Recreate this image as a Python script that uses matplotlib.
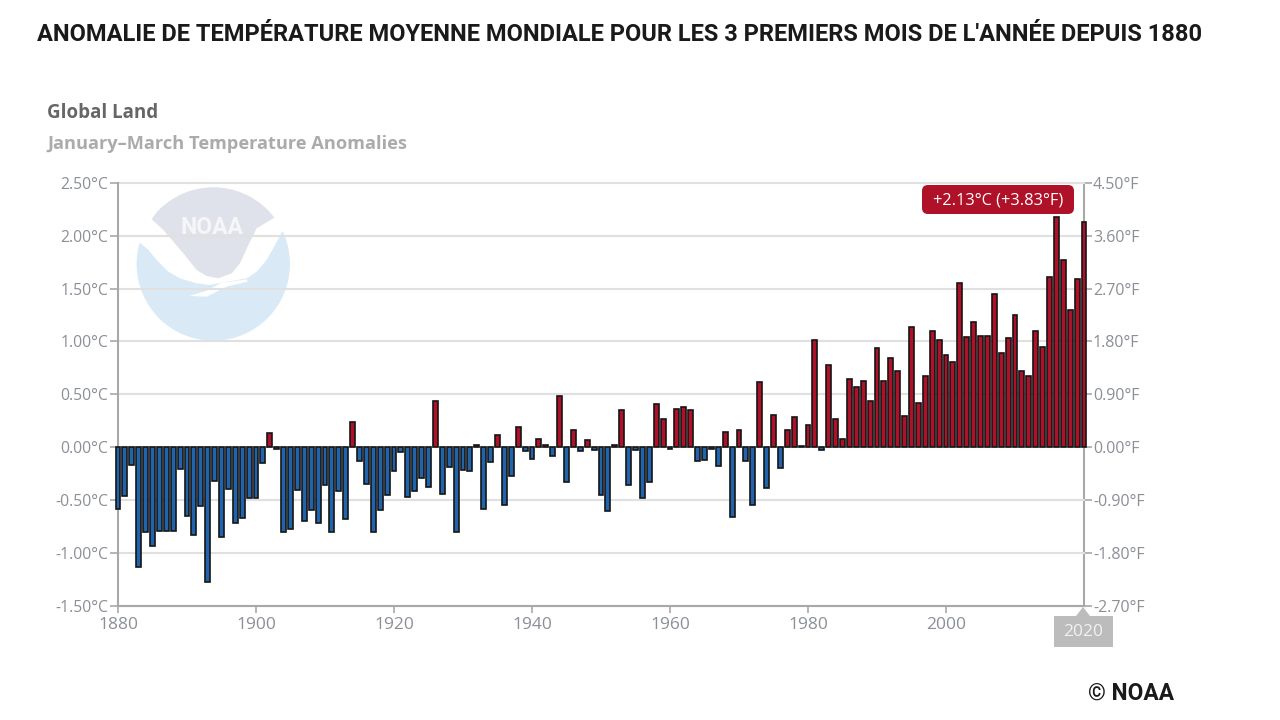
import matplotlib
matplotlib.use('Agg')
import matplotlib.pyplot as plt
from matplotlib.patches import Circle, Polygon, FancyBboxPatch, Rectangle

years = list(range(1880, 2021))
anomalies = [
    -0.59, -0.46, -0.17, -1.14, -0.80, -0.94, -0.79, -0.79, -0.79, -0.21,
    -0.65, -0.83, -0.56, -1.28, -0.32, -0.85, -0.40, -0.72, -0.67, -0.48,
    -0.48, -0.155, 0.13, -0.02, -0.80, -0.78, -0.41, -0.70, -0.60, -0.72,
    -0.36, -0.80, -0.42, -0.68, 0.24, -0.13, -0.35, -0.80, -0.60, -0.45,
    -0.23, -0.05, -0.47, -0.42, -0.29, -0.38, 0.44, -0.44, -0.19, -0.80,
    -0.22, -0.23, 0.02, -0.59, -0.14, 0.11, -0.55, -0.27, 0.19, -0.04,
    -0.11, 0.08, 0.02, -0.08, 0.48, -0.33, 0.16, -0.04, 0.07, -0.03,
    -0.45, -0.61, 0.02, 0.35, -0.36, -0.03, -0.48, -0.33, 0.41, 0.27,
    -0.02, 0.36, 0.38, 0.35, -0.13, -0.12, -0.02, -0.18, 0.14, -0.66,
    0.16, -0.13, -0.55, 0.62, -0.39, 0.30, -0.20, 0.16, 0.28, 0.01,
    0.21, 1.01, -0.03, 0.78, 0.27, 0.08, 0.64, 0.57, 0.63, 0.44,
    0.94, 0.63, 0.84, 0.72, 0.29, 1.14, 0.42, 0.67, 1.10, 1.01,
    0.87, 0.81, 1.55, 1.04, 1.18, 1.05, 1.05, 1.45, 0.89, 1.03,
    1.25, 0.72, 0.67, 1.10, 0.95, 1.61, 2.18, 1.77, 1.30, 1.59,
    2.13,
]
c_ticks = [-1.5, -1.0, -0.5, 0.0, 0.5, 1.0, 1.5, 2.0, 2.5]
f_ticks = [-2.7, -1.8, -0.9, 0.0, 0.9, 1.8, 2.7, 3.6, 4.5]
x_ticks = [1880, 1900, 1920, 1940, 1960, 1980, 2000]

BLUE = '#1f64ad'
RED = '#ae1128'
GREY_TXT = '#8b8f96'
AXIS = '#a8a8a8'
FONT = 'Open Sans'

plt.rcParams['font.family'] = FONT
fig = plt.figure(figsize=(12.8, 7.2), dpi=100)

# full page axes in pixels, for the logo, titles and tooltips
bg = fig.add_axes([0, 0, 1, 1], zorder=0)
bg.set_xlim(0, 1280)
bg.set_ylim(720, 0)
bg.axis('off')


def lg(points):
    return [(40 + x / 3, 170 + y / 3) for x, y in points]


bg.add_patch(Circle((213.3, 264), 76.7, fc='#d9eaf6', ec='none'))
bg.add_patch(Polygon(lg([(292, 218), (300, 218), (325, 240), (350, 270), (385, 305), (420, 325),
                         (470, 340), (510, 345), (545, 338), (620, 325), (650, 305), (680, 270),
                         (705, 225), (728, 183), (770, 100), (520, 0), (270, 100)]),
                     fc='white', ec='none'))
top = Circle((213.3, 264), 76.7, fc='#dfe2ea', ec='none')
bg.add_patch(top)
clip = Polygon(lg([(335, 148), (370, 180), (400, 215), (430, 250), (470, 300), (500, 318), (535, 325),
                   (575, 310), (600, 280), (625, 225), (650, 175), (705, 142), (620, 20), (420, 20)]),
               transform=bg.transData)
top.set_clip_path(clip)
bg.add_patch(Polygon(lg([(448, 378), (500, 362), (545, 338), (622, 328), (622, 335),
                         (560, 350), (500, 380)]), fc='white', ec='none'))
bg.text(212, 227, 'NOAA', color='#f6f6f8', fontsize=16.5, fontweight='bold', family='Roboto',
        ha='center', va='center')

bg.text(37, 34.5, "ANOMALIE DE TEMPÉRATURE MOYENNE MONDIALE POUR LES 3 PREMIERS MOIS DE L'ANNÉE DEPUIS 1880",
        family='Roboto', fontweight='bold', fontsize=17, color='#1a1a1a', va='center')
bg.text(47, 113, 'Global Land', fontsize=13.5, fontweight='bold', color='#666666', va='center')
bg.text(47, 144, 'January–March Temperature Anomalies', fontsize=13.15, fontweight='bold',
        color='#ababab', va='center')
bg.text(1088, 693, '© NOAA', family='Roboto', fontweight='bold', fontsize=16.4,
        color='#1a1a1a', va='center')

# chart
ax = fig.add_axes([118 / 1280, 1 - 605.5 / 720, 966 / 1280, 422.5 / 720], zorder=1)
ax.patch.set_alpha(0)
colors = [RED if v > 0 else BLUE for v in anomalies]
ax.bar(years, anomalies, width=0.72, color=colors, edgecolor='#151515', linewidth=1.2,
       clip_on=False, zorder=3)
ax.set_xlim(1880, 2020)
ax.set_ylim(-1.5, 2.5)
ax.set_yticks(c_ticks)
ax.set_yticklabels([f'{t:.2f}°C' for t in c_ticks])
ax.set_xticks(x_ticks)
ax.grid(axis='y', color='#e0e0e0', linewidth=1.5, zorder=0, clip_on=False)
ax.set_axisbelow(True)
ax.tick_params(axis='y', length=6, width=1.2, color=AXIS, labelcolor=GREY_TXT, labelsize=11.3, pad=1)
ax.tick_params(axis='x', length=5, width=1.2, color=AXIS, labelcolor=GREY_TXT, labelsize=12.5, pad=3)
for side in ['top', 'right']:
    ax.spines[side].set_visible(False)
ax.spines['left'].set_color(AXIS)
ax.spines['left'].set_linewidth(1.5)
ax.spines['bottom'].set_color(AXIS)
ax.spines['bottom'].set_linewidth(1.5)

ax2 = ax.twinx()
ax2.set_ylim(-2.7, 4.5)
ax2.set_yticks(f_ticks)
ax2.set_yticklabels([f'{t:.2f}°F' for t in f_ticks])
ax2.tick_params(axis='y', length=5.5, width=1.2, color=AXIS, labelcolor=GREY_TXT, labelsize=11.5, pad=1)
for side in ['top', 'left', 'bottom']:
    ax2.spines[side].set_visible(False)
ax2.spines['right'].set_color(AXIS)
ax2.spines['right'].set_linewidth(1.5)
ax2.patch.set_alpha(0)
ax.set_zorder(2)
ax2.set_zorder(1)

# tooltips sit on top of everything
fg = fig.add_axes([0, 0, 1, 1], zorder=3)
fg.set_xlim(0, 1280)
fg.set_ylim(720, 0)
fg.axis('off')
fg.add_patch(FancyBboxPatch((922, 185), 152, 29, boxstyle='round,pad=0,rounding_size=6',
                            fc=RED, ec='none'))
fg.text(998, 200.5, '+2.13°C (+3.83°F)', color='white', fontsize=11.8, ha='center', va='center')
fg.add_patch(Rectangle((1054, 616), 59, 31, fc='#bcbcbc', ec='none'))
fg.add_patch(Polygon([(1076, 616), (1083, 607), (1090, 616)], fc='#bcbcbc', ec='none'))
fg.text(1083.5, 631.5, '2020', color='#f2f2f2', fontsize=12.5, ha='center', va='center')

fig.savefig('out.png', dpi=100)
